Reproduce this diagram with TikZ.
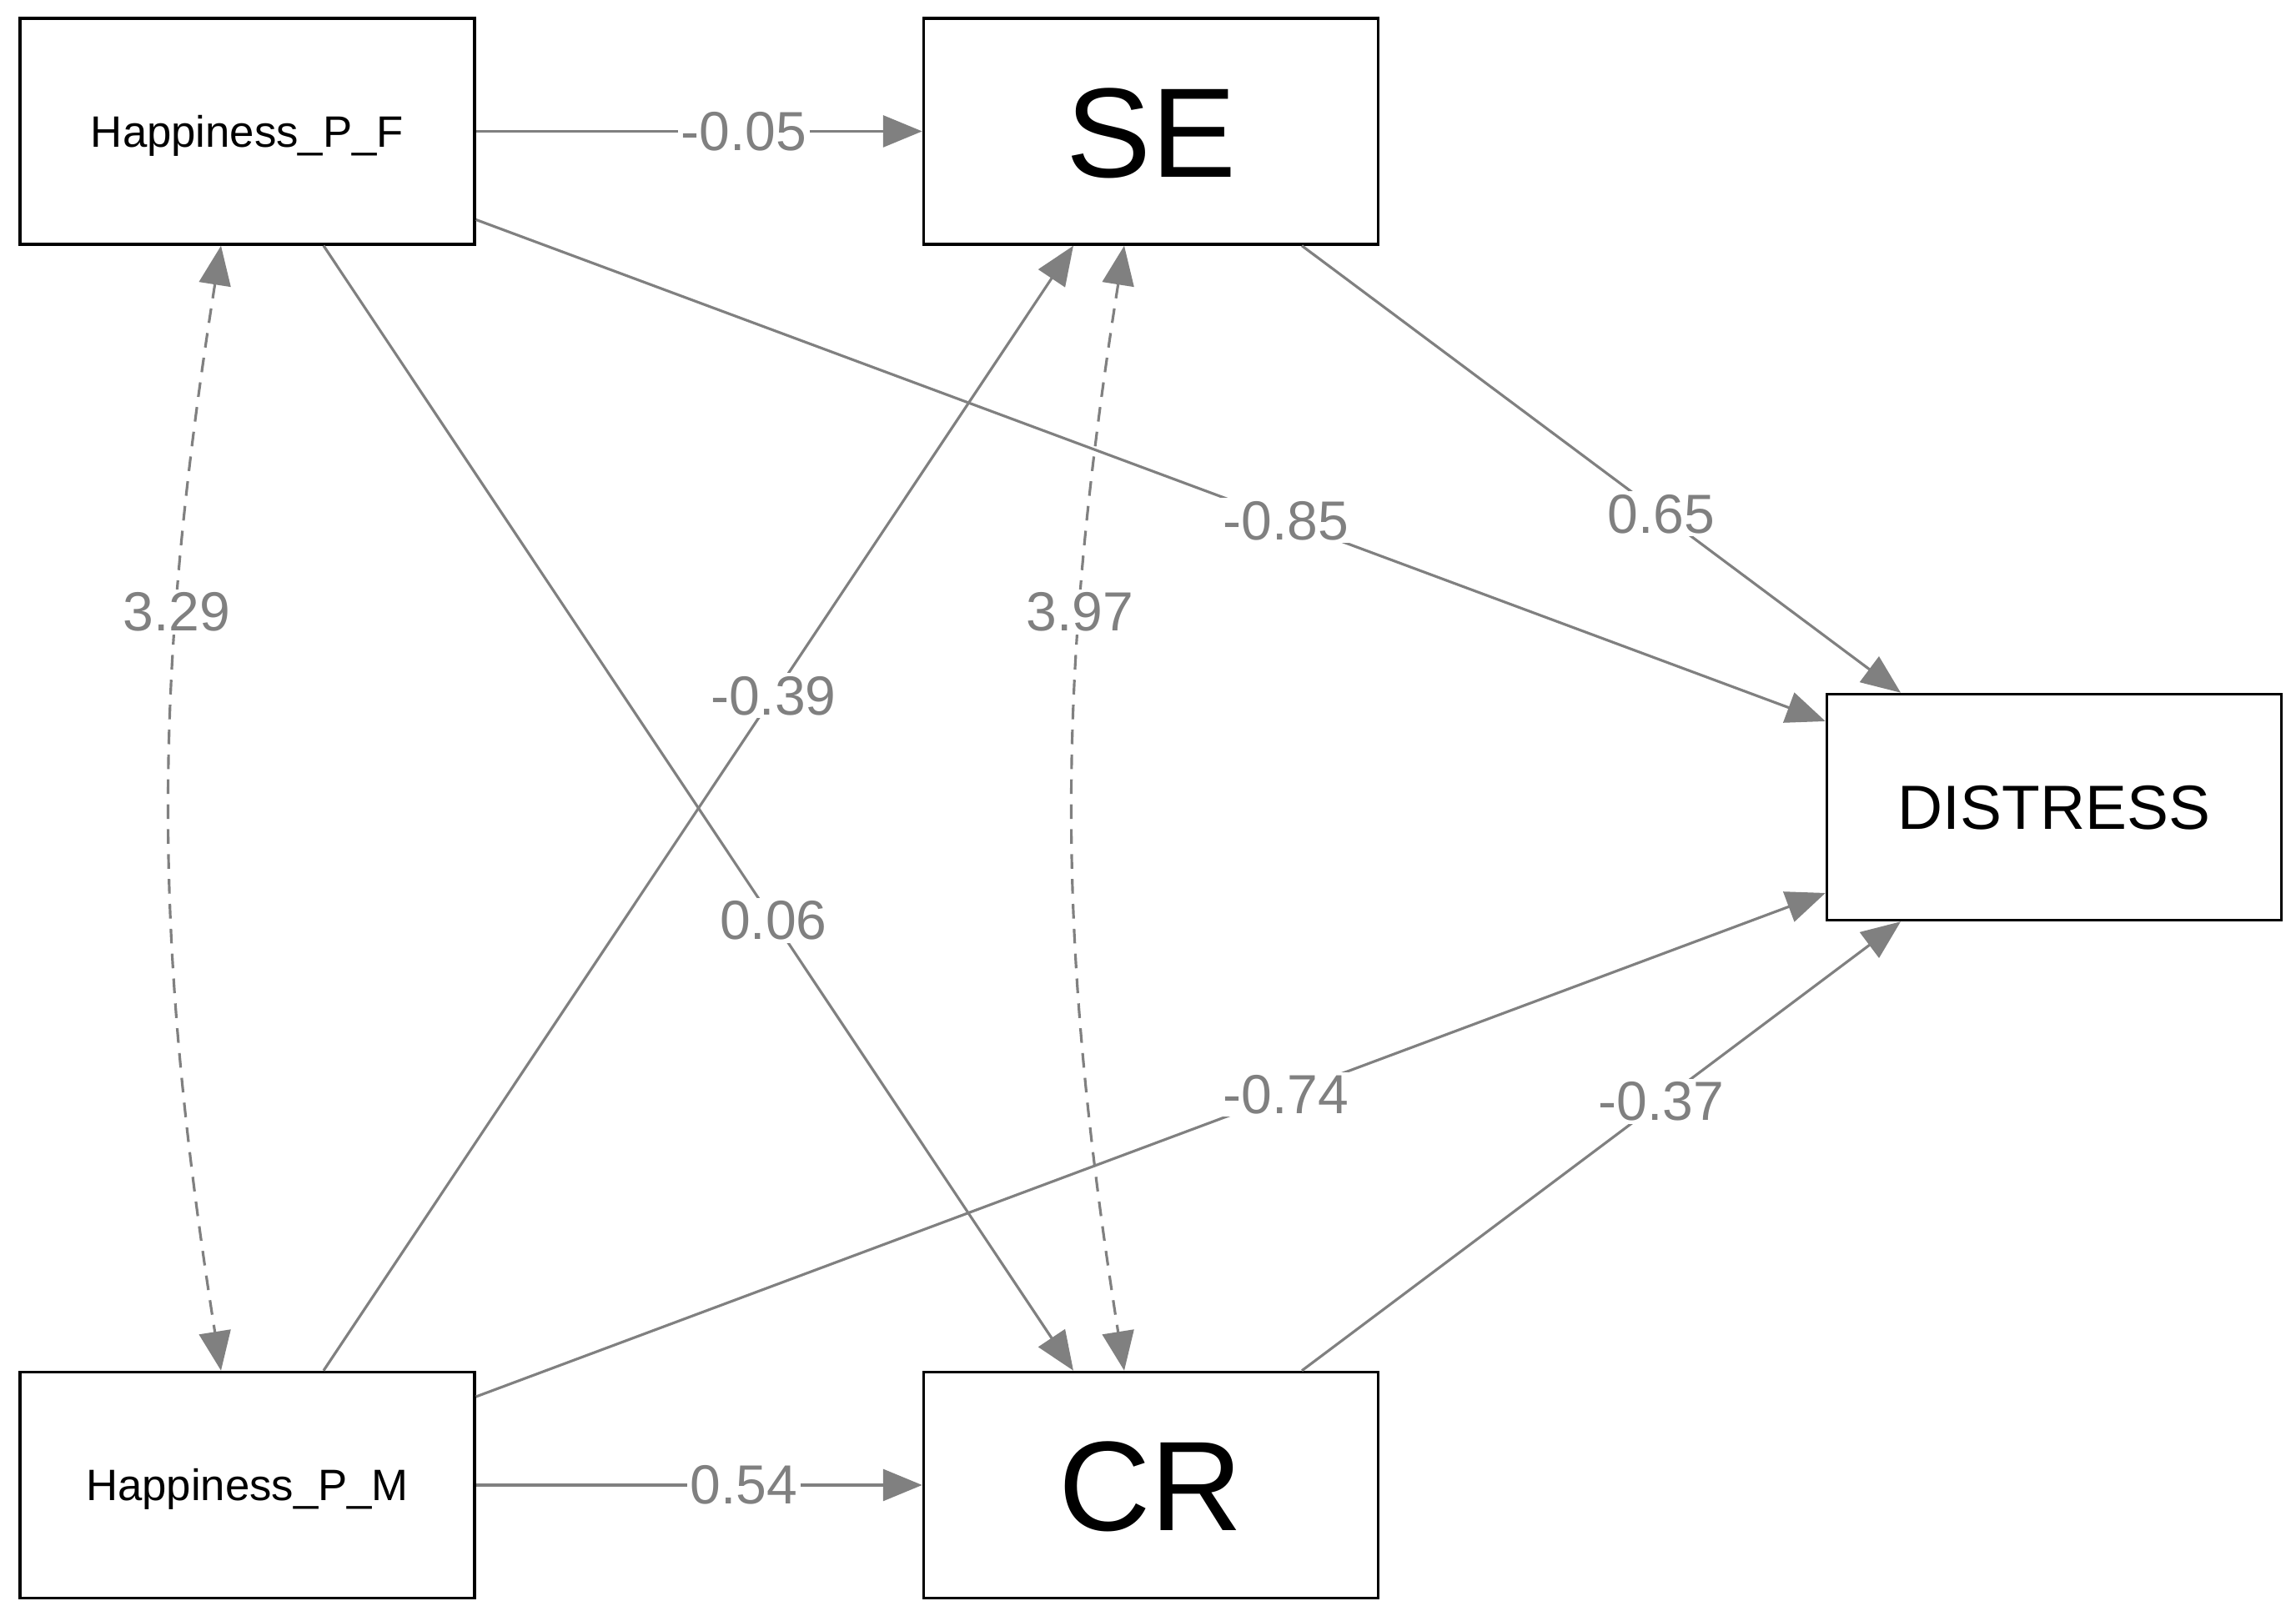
\documentclass[tikz,border=0pt]{standalone}
\usepackage{fontspec}
\setmainfont{Liberation Sans}
\usetikzlibrary{arrows.meta,calc}
\definecolor{edgegray}{HTML}{808080}
\begin{document}
\begin{tikzpicture}[
  box/.style={draw=black, line width=1pt, minimum width=5.45cm, minimum height=2.71cm, inner sep=0pt, fill=white, text depth=0pt},
  pathedge/.style={draw=edgegray, line width=0.9pt, -{Triangle[length=0.47cm,width=0.38cm]}},
  covedge/.style={draw=edgegray, line width=0.9pt, dash pattern=on 5pt off 3.5pt, {Triangle[length=0.47cm,width=0.38cm]}-{Triangle[length=0.47cm,width=0.38cm]}},
  lab/.style={fill=white, text=edgegray, font=\fontsize{18.8}{20}\selectfont, inner sep=1pt}
]
\useasboundingbox (0,0) rectangle (27.53,19.38);
\node[box, text height=10.8pt, font=\fontsize{15}{17}\selectfont] (HF) at (2.965,17.805) {Happiness\_P\_F};
\node[box, text height=31.3pt, font=\fontsize{43.5}{46}\selectfont] (SE) at (13.80,17.805) {SE};
\node[box, text height=15.3pt, font=\fontsize{21.3}{24}\selectfont] (DIST) at (24.63,9.70) {DISTRESS};
\node[box, text height=10.8pt, font=\fontsize{15}{17}\selectfont] (HM) at (2.965,1.57) {Happiness\_P\_M};
\node[box, text height=31.3pt, font=\fontsize{43.5}{46}\selectfont] (CR) at (13.80,1.57) {CR};

\draw[pathedge] (HF.east) -- node[lab,pos=0.6]{-0.05} (SE.west);
\draw[pathedge] (HM.east) -- node[lab,pos=0.6]{0.54} (CR.west);
\draw[pathedge] ([yshift=-1.06cm]HF.east) -- node[lab,pos=0.6]{-0.85} ([yshift=1.03cm]DIST.west);
\draw[pathedge] ([yshift=1.06cm]HM.east) -- node[lab,pos=0.6]{-0.74} ([yshift=-1.03cm]DIST.west);
\draw[pathedge] ([xshift=0.915cm]HF.south) -- node[lab,pos=0.6]{0.06} ([xshift=-0.93cm]CR.north);
\draw[pathedge] ([xshift=0.915cm]HM.north) -- node[lab,pos=0.6]{-0.39} ([xshift=-0.93cm]SE.south);
\draw[pathedge] ([xshift=1.81cm]SE.south) -- node[lab,pos=0.6]{0.65} ([xshift=-1.84cm]DIST.north);
\draw[pathedge] ([xshift=1.81cm]CR.north) -- node[lab,pos=0.6]{-0.37} ([xshift=-1.84cm]DIST.south);
\draw[covedge] ([xshift=-0.315cm]HF.south) to[bend right=9] node[lab,pos=0.313]{3.29} ([xshift=-0.315cm]HM.north);
\draw[covedge] ([xshift=-0.32cm]SE.south) to[bend right=9] node[lab,pos=0.313]{3.97} ([xshift=-0.32cm]CR.north);
\end{tikzpicture}
\end{document}
